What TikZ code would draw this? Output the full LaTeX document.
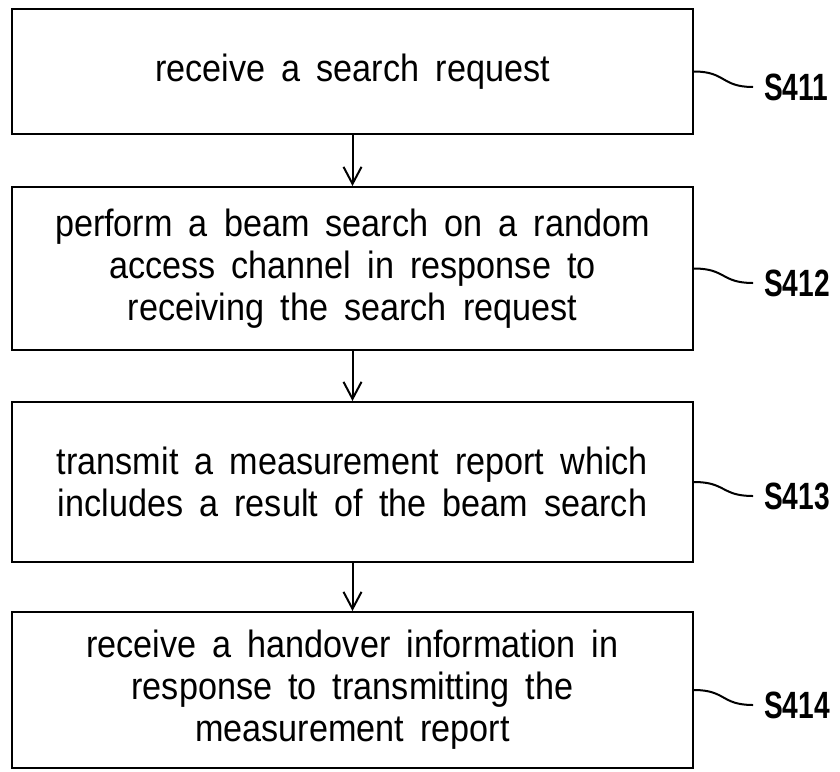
\documentclass[tikz,border=0pt]{standalone}
\usepackage{fontspec}
\setmainfont[FakeStretch=0.9,WordSpace=1.7]{Liberation Sans}
\newfontfamily\stepfont[FakeStretch=0.74]{Liberation Sans}
\usetikzlibrary{arrows.meta}

\begin{document}
\begin{tikzpicture}[x=1pt, y=-1pt, line width=2pt, -{Straight Barb[length=17pt,width=18pt]},
      every node/.append style={inner sep=0pt}]
    \tikzstyle{stepbox} = [draw, rectangle, minimum width=681pt, align=center, font=\fontsize{38}{42}\selectfont]
    \tikzstyle{tag} = [anchor=west, inner xsep=10pt, font=\stepfont\bfseries\fontsize{38}{40}\selectfont]
    \useasboundingbox (0,0) rectangle (840,771);
    \node (receive) [stepbox, minimum height=125pt] at (352.5,71.5) {receive a search request};
    \node (search) [stepbox, minimum height=163pt] at (352.5,268.5)
      {perform a beam search on a random\\ access channel in response to\\ receiving the search request};
    \node (report) [stepbox, minimum height=160pt] at (352.5,482)
      {transmit a measurement report which\\ includes a result of the beam search};
    \node (handover) [stepbox, minimum height=156pt] at (352.5,690)
      {receive a handover information in\\ response to transmitting the\\ measurement report};
    \node (S411) [tag] at (753,87) {S411};
    \node (S412) [tag] at (753,283) {S412};
    \node (S413) [tag] at (753,496) {S413};
    \node (S414) [tag] at (753,705) {S414};
    \draw (receive) -- (search);
    \draw (search) -- (report);
    \draw (report) -- (handover);
    \draw[-] (receive.east) .. controls +(32,0) and +(-32,0) .. (S411.west);
    \draw[-] (search.east) .. controls +(32,0) and +(-32,0) .. (S412.west);
    \draw[-] (report.east) .. controls +(32,0) and +(-32,0) .. (S413.west);
    \draw[-] (handover.east) .. controls +(32,0) and +(-32,0) .. (S414.west);
\end{tikzpicture}
\end{document}
